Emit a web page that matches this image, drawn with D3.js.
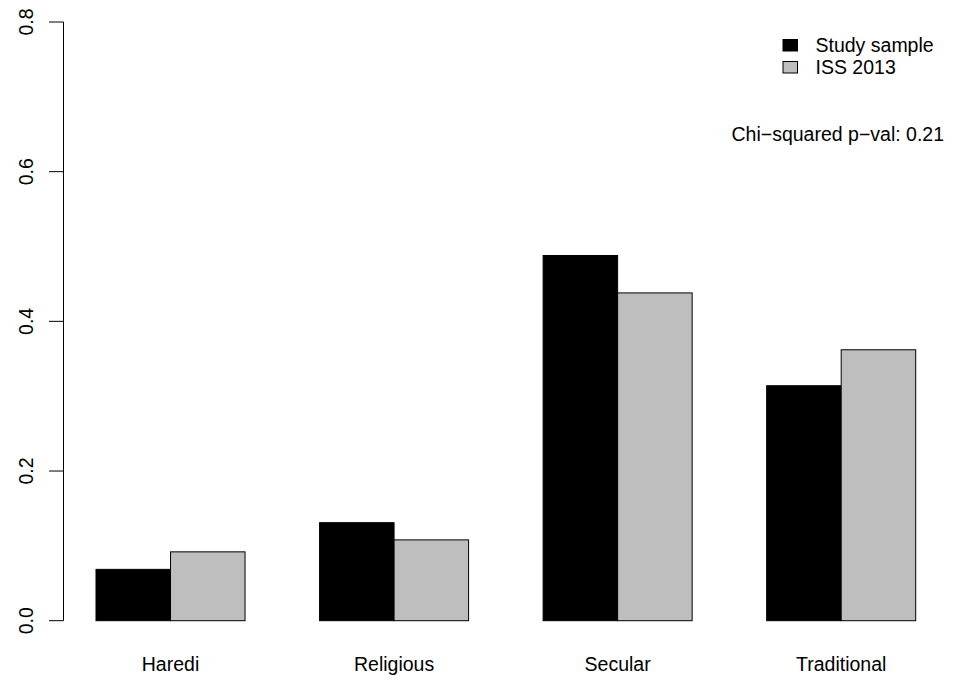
<!DOCTYPE html>
<html>
<head>
<meta charset="utf-8">
<script src="https://cdn.jsdelivr.net/npm/d3@7"></script>
<style>
  html, body { margin: 0; padding: 0; background: #fff; }
  svg { display: block; }
  text { font-family: "Liberation Sans", Arial, Helvetica, sans-serif; fill: #000; }
</style>
</head>
<body>
<script>
const categories = ["Haredi", "Religious", "Secular", "Traditional"];
const seriesNames = ["Study sample", "ISS 2013"];
const studySample = [0.0686, 0.131, 0.488, 0.314];
const iss2013 = [0.092, 0.108, 0.438, 0.362];
const yTicks = [0.0, 0.2, 0.4, 0.6, 0.8];
const yTickLabels = ["0.0", "0.2", "0.4", "0.6", "0.8"];
const seriesColors = ["#000000", "#BEBEBE"];
const pvalText = "Chi\u2212squared p\u2212val: 0.21";

const W = 953, H = 681;
const FS = 19.5;
const svg = d3.select("body").append("svg").attr("width", W).attr("height", H);

// R barplot units: bar width 1, space c(0,1)
const x = d3.scaleLinear().domain([1, 12]).range([96, 915.7]);
const y = d3.scaleLinear().domain([0, 0.8]).range([620.7, 22]);

const series = [studySample, iss2013];
categories.forEach((c, i) => {
  const left = 1 + i * 3;
  series.forEach((vals, s) => {
    const x0 = x(left + s), x1 = x(left + s + 1);
    svg.append("rect")
      .attr("x", x0).attr("y", y(vals[i]))
      .attr("width", x1 - x0).attr("height", y(0) - y(vals[i]))
      .attr("fill", seriesColors[s])
      .attr("stroke", "#000").attr("stroke-width", 1);
  });
  svg.append("text")
    .attr("x", x(left + 1)).attr("y", 671)
    .attr("text-anchor", "middle").attr("font-size", FS)
    .text(c);
});

// Y axis
const axisX = 63.5;
svg.append("line")
  .attr("x1", axisX).attr("x2", axisX)
  .attr("y1", y(yTicks[0])).attr("y2", y(yTicks[yTicks.length - 1]))
  .attr("stroke", "#000").attr("stroke-width", 1);
yTicks.forEach((t, i) => {
  svg.append("line")
    .attr("x1", axisX - 14.5).attr("x2", axisX)
    .attr("y1", y(t)).attr("y2", y(t))
    .attr("stroke", "#000").attr("stroke-width", 1);
  svg.append("text")
    .attr("transform", `translate(32.5,${y(t)}) rotate(-90)`)
    .attr("text-anchor", "middle").attr("font-size", FS)
    .text(yTickLabels[i]);
});

// Legend
seriesNames.forEach((n, i) => {
  const ly = 39.5 + i * 22;
  svg.append("rect")
    .attr("x", 783).attr("y", ly).attr("width", 14.5).attr("height", 11.5)
    .attr("fill", seriesColors[i]).attr("stroke", "#000").attr("stroke-width", 1);
  svg.append("text")
    .attr("x", 815.5).attr("y", 51.5 + i * 22)
    .attr("font-size", FS).text(n);
});

svg.append("text")
  .attr("x", 944).attr("y", 140.5)
  .attr("text-anchor", "end").attr("font-size", FS)
  .text(pvalText);
</script>
</body>
</html>
